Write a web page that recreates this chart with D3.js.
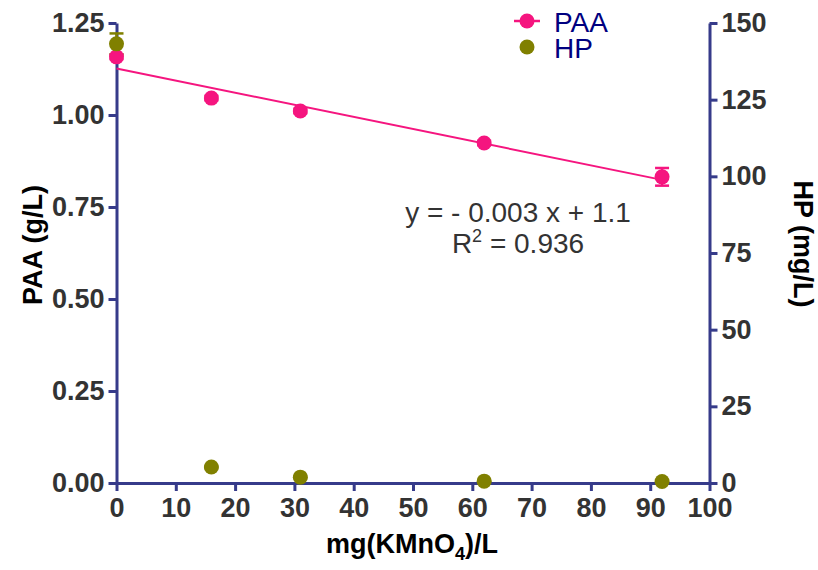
<!DOCTYPE html>
<html>
<head>
<meta charset="utf-8">
<style>
  body { margin: 0; background: #fff; }
  svg text { font-family: "Liberation Sans", Arial, sans-serif; }
</style>
</head>
<body>
<svg id="chart" width="818" height="570"></svg>
<script src="https://d3js.org/d3.v7.min.js"></script>
<script>
  // doses of KMnO4 (mg/L)
  const doses = [0, 16, 31, 62, 92];
  // PAA in g/L, with error
  const paa = [1.158, 1.046, 1.011, 0.924, 0.832];
  const paaErr = [0.006, 0.006, 0.006, 0.006, 0.024];
  // HP in mg/L, with error
  const hp = [143.2, 5.2, 1.9, 0.6, 0.5];
  const hpErr = [3.4, 0.3, 0.3, 0.2, 0.2];

  const xTicks = [0, 10, 20, 30, 40, 50, 60, 70, 80, 90, 100];
  const leftTicks = [0, 0.25, 0.5, 0.75, 1.0, 1.25];
  const rightTicks = [0, 25, 50, 75, 100, 125, 150];

  const pink = "#f5157f";
  const olive = "#808000";
  const axisColor = "#363b8a";
  const labelColor = "#333333";

  const svg = d3.select("#chart");

  const x = d3.scaleLinear().domain([0, 100]).range([116.5, 709.5]);
  const yL = d3.scaleLinear().domain([0, 1.25]).range([483, 23]);
  const yR = d3.scaleLinear().domain([0, 150]).range([483, 23]);

  // least squares fit for PAA
  const mx = d3.mean(doses), my = d3.mean(paa);
  const sxy = d3.sum(doses, (d, i) => (d - mx) * (paa[i] - my));
  const sxx = d3.sum(doses, d => (d - mx) * (d - mx));
  const slope = sxy / sxx;
  const icpt = my - slope * mx;

  function styleAxis(g) {
    g.select(".domain").attr("stroke", axisColor).attr("stroke-width", 3);
    g.selectAll(".tick line").attr("stroke", axisColor).attr("stroke-width", 3);
    g.selectAll(".tick text")
      .attr("fill", labelColor)
      .attr("font-size", 27)
      .attr("font-weight", "bold")
      .style("font-family", "'Liberation Sans', Arial, sans-serif");
  }

  // x axis
  svg.append("g")
    .attr("transform", `translate(0,${yL(0)})`)
    .call(d3.axisBottom(x).tickValues(xTicks).tickSize(8).tickSizeOuter(0).tickPadding(7))
    .call(styleAxis);

  // left axis
  svg.append("g")
    .attr("transform", `translate(${x(0)},0)`)
    .call(d3.axisLeft(yL).tickValues(leftTicks).tickFormat(d3.format(".2f")).tickSize(8).tickSizeOuter(0).tickPadding(4))
    .call(styleAxis);

  // right axis
  svg.append("g")
    .attr("transform", `translate(${x(100)},0)`)
    .call(d3.axisRight(yR).tickValues(rightTicks).tickSize(8).tickSizeOuter(0).tickPadding(4))
    .call(styleAxis);

  // regression line
  svg.append("line")
    .attr("x1", x(doses[0])).attr("y1", yL(icpt + slope * doses[0]))
    .attr("x2", x(doses[doses.length - 1])).attr("y2", yL(icpt + slope * doses[doses.length - 1]))
    .attr("stroke", pink).attr("stroke-width", 2);

  function errorBars(vals, errs, scale, color) {
    const g = svg.append("g").attr("stroke", color).attr("stroke-width", 2.5);
    doses.forEach((d, i) => {
      const cx = x(d);
      const y0 = scale(vals[i] - errs[i]), y1 = scale(vals[i] + errs[i]);
      g.append("line").attr("x1", cx).attr("x2", cx).attr("y1", y0).attr("y2", y1);
      g.append("line").attr("x1", cx - 7).attr("x2", cx + 7).attr("y1", y0).attr("y2", y0);
      g.append("line").attr("x1", cx - 7).attr("x2", cx + 7).attr("y1", y1).attr("y2", y1);
    });
  }

  errorBars(paa, paaErr, yL, pink);
  errorBars(hp, hpErr, yR, olive);

  svg.append("g").selectAll("circle")
    .data(doses)
    .join("circle")
    .attr("cx", d => x(d))
    .attr("cy", (d, i) => yL(paa[i]))
    .attr("r", 7.5)
    .attr("fill", pink);

  svg.append("g").selectAll("circle")
    .data(doses)
    .join("circle")
    .attr("cx", d => x(d))
    .attr("cy", (d, i) => yR(hp[i]))
    .attr("r", 7.5)
    .attr("fill", olive);

  // equation
  svg.append("text")
    .attr("x", 518).attr("y", 222)
    .attr("text-anchor", "middle")
    .attr("font-size", 28)
    .attr("fill", labelColor)
    .text("y = - 0.003 x + 1.1");
  const r2 = svg.append("text")
    .attr("x", 518).attr("y", 253)
    .attr("text-anchor", "middle")
    .attr("font-size", 28)
    .attr("fill", labelColor);
  r2.append("tspan").text("R");
  r2.append("tspan").attr("dy", -11).attr("font-size", 18).text("2");
  r2.append("tspan").attr("dy", 11).text(" = 0.936");

  // legend
  const legend = svg.append("g");
  legend.append("line")
    .attr("x1", 514).attr("x2", 540).attr("y1", 21).attr("y2", 21)
    .attr("stroke", pink).attr("stroke-width", 2.5);
  legend.append("circle").attr("cx", 527).attr("cy", 21).attr("r", 7.5).attr("fill", pink);
  legend.append("circle").attr("cx", 527).attr("cy", 47).attr("r", 7.5).attr("fill", olive);
  legend.append("text").attr("x", 554).attr("y", 32).attr("font-size", 28).attr("fill", "#000080").text("PAA");
  legend.append("text").attr("x", 554).attr("y", 58).attr("font-size", 28).attr("fill", "#000080").text("HP");

  // axis titles
  const xt = svg.append("text")
    .attr("x", 412).attr("y", 553)
    .attr("text-anchor", "middle")
    .attr("font-size", 27).attr("font-weight", "bold").attr("fill", "#000");
  xt.append("tspan").text("mg(KMnO");
  xt.append("tspan").attr("dy", 7).attr("font-size", 18).text("4");
  xt.append("tspan").attr("dy", -7).text(")/L");

  svg.append("text")
    .attr("transform", `translate(42,245) rotate(-90)`)
    .attr("text-anchor", "middle")
    .attr("font-size", 27).attr("font-weight", "bold").attr("fill", "#000")
    .text("PAA (g/L)");

  svg.append("text")
    .attr("transform", `translate(794,244) rotate(90)`)
    .attr("text-anchor", "middle")
    .attr("font-size", 27).attr("font-weight", "bold").attr("fill", "#000")
    .text("HP (mg/L)");
</script>
</body>
</html>
